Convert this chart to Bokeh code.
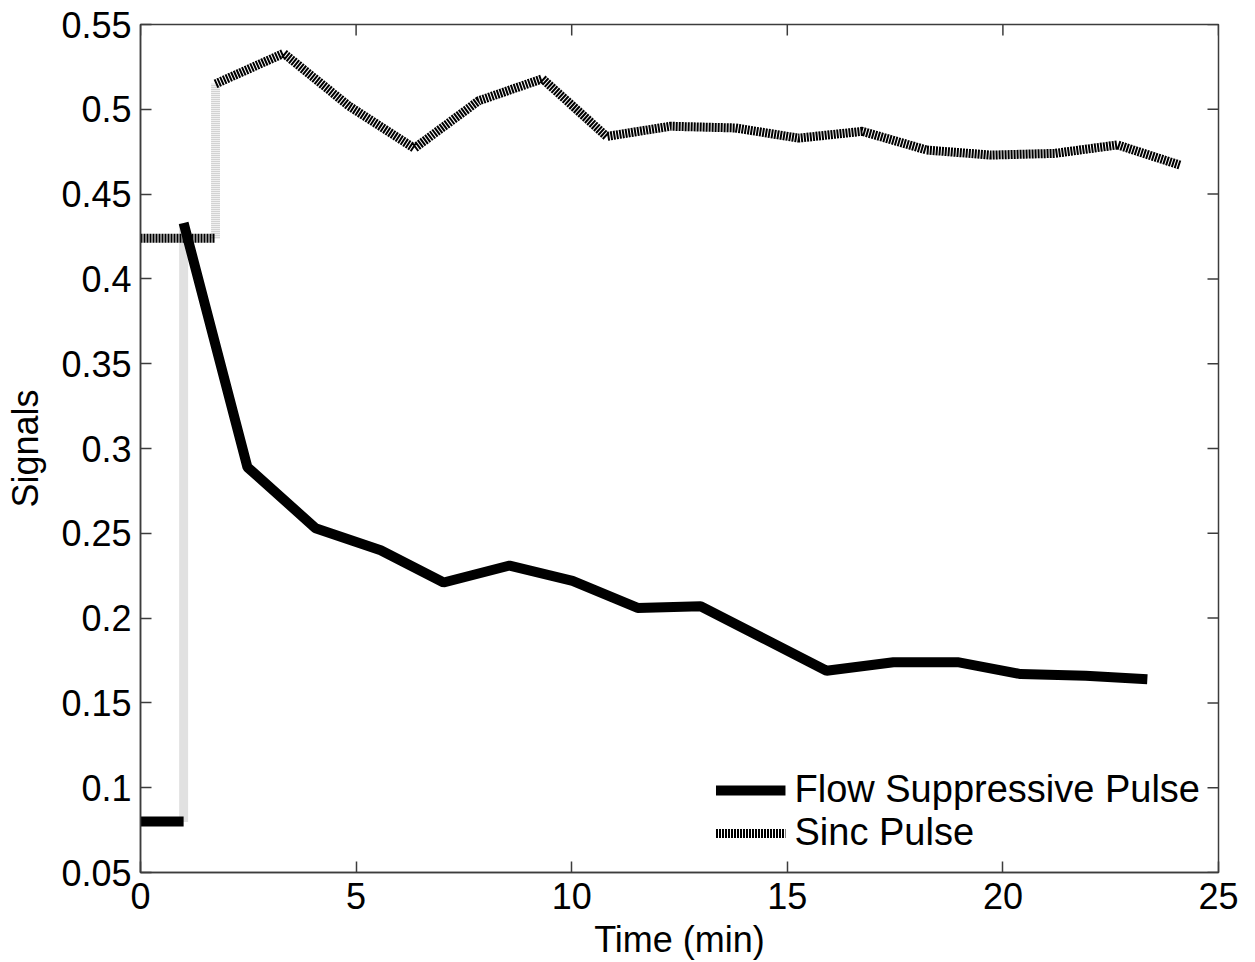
import math
from bokeh.plotting import figure
from bokeh.models import Range1d, FixedTicker, Legend, LegendItem
from bokeh.embed import file_html
from bokeh.resources import INLINE

# ---- data ----
flow_pre_t = [0.0, 1.0]
flow_pre_v = [0.08, 0.08]
flow_t = [1.0, 2.48, 4.06, 5.57, 7.03, 8.56, 10.02, 11.53, 12.99, 14.45, 15.91, 17.46, 18.95, 20.41, 21.92, 23.35]
flow_v = [0.433, 0.289, 0.253, 0.240, 0.221, 0.231, 0.222, 0.206, 0.207, 0.188, 0.169, 0.174, 0.174, 0.167, 0.166, 0.164]

sinc_pre_t = [0.0, 1.74]
sinc_pre_v = [0.424, 0.424]
sinc_t = [1.74, 3.32, 4.83, 6.35, 7.84, 9.32, 10.81, 12.29, 13.80, 15.26, 16.74, 18.23, 19.71, 21.20, 22.66, 24.12]
sinc_v = [0.515, 0.533, 0.502, 0.477, 0.505, 0.518, 0.484, 0.490, 0.489, 0.483, 0.487, 0.476, 0.473, 0.474, 0.479, 0.467]

x_ticks = [0, 5, 10, 15, 20, 25]
x_tick_labels = ["0", "5", "10", "15", "20", "25"]
y_ticks = [0.05, 0.1, 0.15, 0.2, 0.25, 0.3, 0.35, 0.4, 0.45, 0.5, 0.55]
y_tick_labels = ["0.05", "0.1", "0.15", "0.2", "0.25", "0.3", "0.35", "0.4", "0.45", "0.5", "0.55"]

X_MIN, X_MAX = 0, 25
Y_MIN, Y_MAX = 0.05, 0.55

FONT = "Liberation Sans"
FS = "36px"
AX_COLOR = "#3c3c3c"

p = figure(width=1255, height=962, output_backend="svg", toolbar_location=None,
           x_range=Range1d(X_MIN, X_MAX), y_range=Range1d(Y_MIN, Y_MAX),
           min_border_left=140, min_border_right=37, min_border_top=24, min_border_bottom=90,
           x_axis_label="Time (min)", y_axis_label="Signals")
p.xgrid.visible = False
p.ygrid.visible = False
p.outline_line_color = AX_COLOR
p.outline_line_width = 1.5
p.background_fill_color = "white"
p.border_fill_color = "white"

def style_axis(ax, ticks, labels):
    ax.ticker = FixedTicker(ticks=ticks)
    ax.major_label_overrides = {t: l for t, l in zip(ticks, labels)}
    ax.major_tick_in = 11
    ax.major_tick_out = 0
    ax.minor_tick_in = 0
    ax.minor_tick_out = 0
    ax.axis_line_color = AX_COLOR
    ax.axis_line_width = 1.5
    ax.major_tick_line_color = AX_COLOR
    ax.major_tick_line_width = 1.5
    ax.major_label_text_font = FONT
    ax.major_label_text_color = "black"
    ax.major_label_text_font_size = FS
    ax.axis_label_text_font = FONT
    ax.axis_label_text_font_size = FS
    ax.axis_label_text_font_style = "normal"
    ax.axis_label_text_color = "black"

style_axis(p.xaxis[0], x_ticks, x_tick_labels)
style_axis(p.yaxis[0], y_ticks, y_tick_labels)
p.xaxis[0].major_label_standoff = 10
p.xaxis[0].axis_label_standoff = 7
p.yaxis[0].major_label_standoff = 9
p.yaxis[0].axis_label_standoff = 12

# tick marks on the top and right edges of the box (MATLAB style)
p.ray(x=x_ticks, y=[Y_MAX] * len(x_ticks), length=11, length_units="screen",
      angle=-math.pi / 2, line_color=AX_COLOR, line_width=1.5)
p.ray(x=[X_MAX] * len(y_ticks), y=y_ticks, length=11, length_units="screen",
      angle=math.pi, line_color=AX_COLOR, line_width=1.5)

# step (vertical) parts, rendered light grey and striped
p.segment(x0=[flow_pre_t[-1]], y0=[flow_pre_v[-1]], x1=[flow_t[0]], y1=[flow_v[0]],
          line_color="#c4c4c4", line_width=9, line_dash="1 1")
p.segment(x0=[sinc_pre_t[-1]], y0=[sinc_pre_v[-1]], x1=[sinc_t[0]], y1=[sinc_v[0]],
          line_color="#c4c4c4", line_width=9, line_dash="1 1")

# baselines
p.line(flow_pre_t, flow_pre_v, line_color="black", line_width=10)
p.line(sinc_pre_t, sinc_pre_v, line_color="black", line_width=9, line_dash="2 1")

# main series
r_flow = p.line(flow_t, flow_v, line_color="black", line_width=10)
r_sinc = p.line(sinc_t, sinc_v, line_color="black", line_width=9, line_dash="2 1")

legend = Legend(items=[LegendItem(label="Flow Suppressive Pulse", renderers=[r_flow]),
                       LegendItem(label="Sinc Pulse", renderers=[r_sinc])],
                location="bottom_right")
legend.border_line_color = None
legend.background_fill_alpha = 0
legend.label_text_font = FONT
legend.label_text_font_size = "38px"
legend.label_text_color = "black"
legend.glyph_width = 70
legend.glyph_height = 30
legend.label_standoff = 9
legend.spacing = 0
legend.padding = 0
legend.margin = 18
p.add_layout(legend, "center")

open("out.html", "w").write(file_html(p, INLINE))
